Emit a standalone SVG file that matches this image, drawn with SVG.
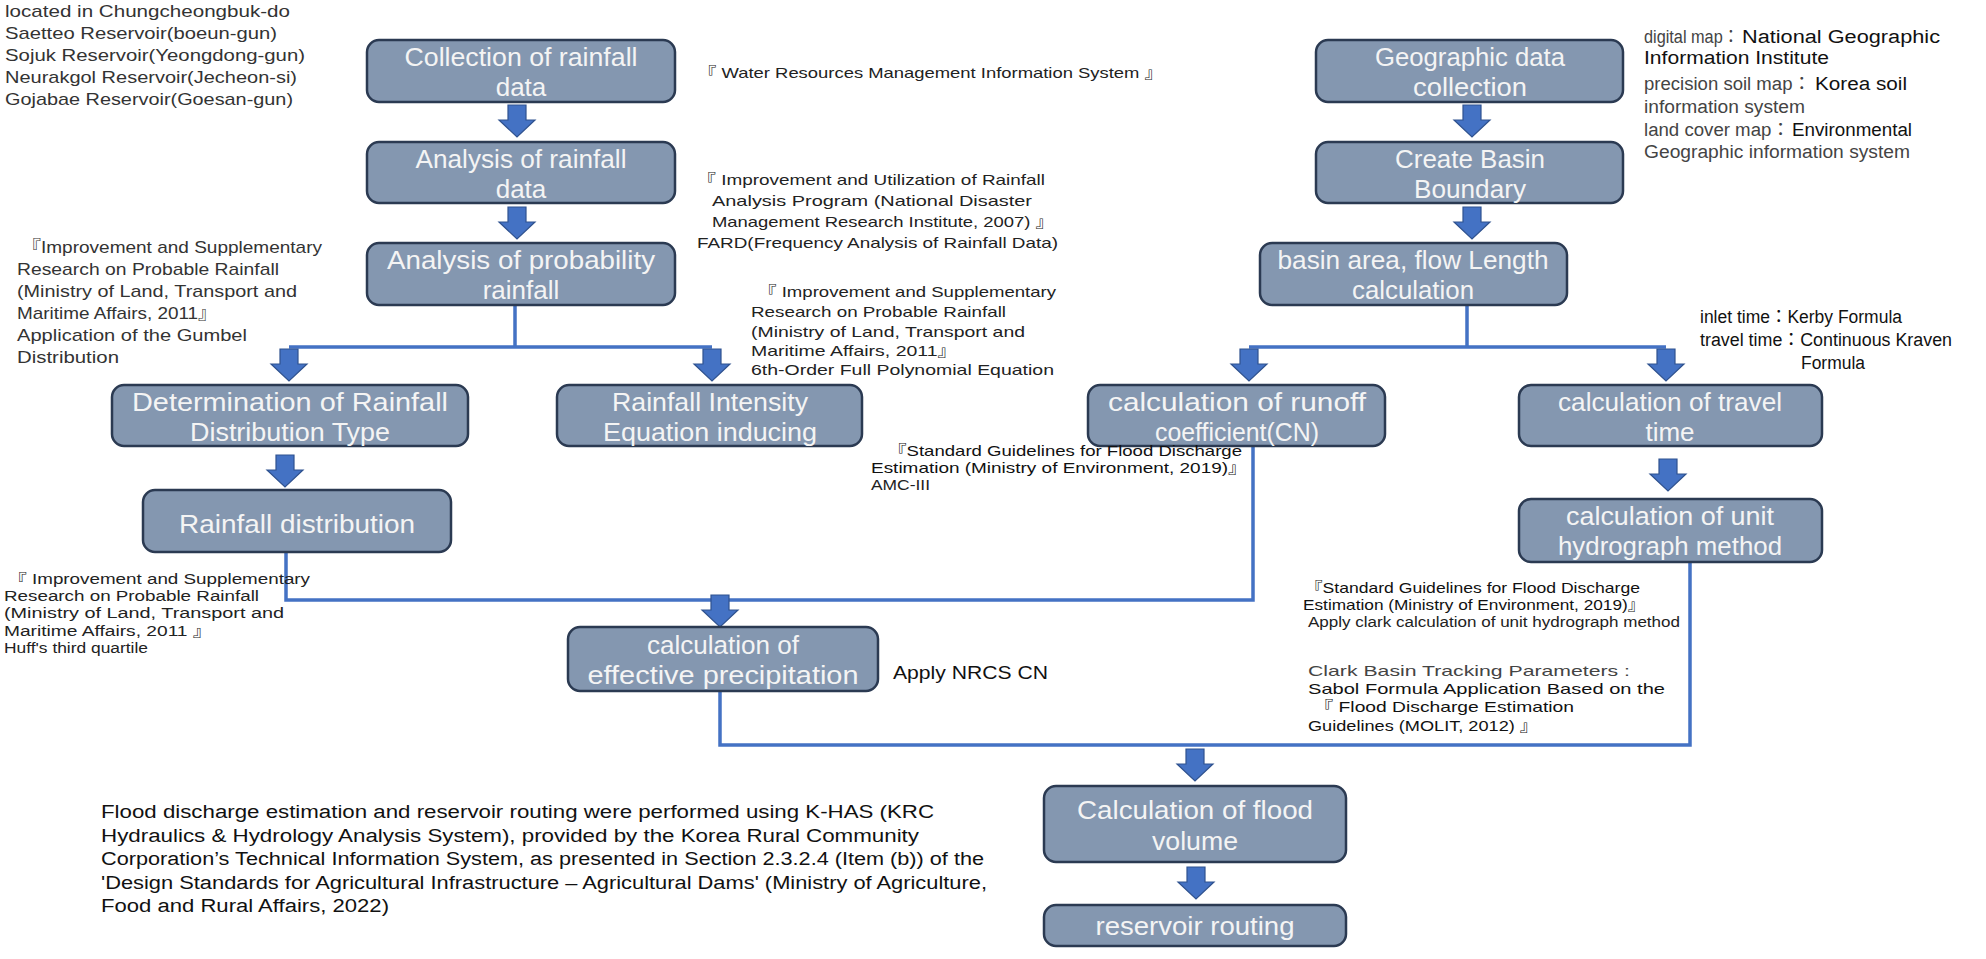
<svg xmlns="http://www.w3.org/2000/svg" xmlns:xlink="http://www.w3.org/1999/xlink" width="1986" height="959" viewBox="0 0 1986 959">
<style>
.node rect{fill:#8497B0;stroke:#2B3A52;stroke-width:2.5}
.nt{font-family:"Liberation Sans","Noto Sans CJK KR",sans-serif;font-size:26px;fill:#F4F4F4;text-anchor:middle}
.a1{font-family:"Liberation Sans","Noto Sans CJK KR",sans-serif;font-size:17px;fill:#333}
.a2{font-family:"Liberation Sans","Noto Sans CJK KR",sans-serif;font-size:15px;fill:#222}
.a5{font-family:"Liberation Sans","Noto Sans CJK KR",sans-serif;font-size:14px;fill:#222}
.a3{font-family:"Liberation Sans","Noto Sans CJK KR",sans-serif;font-size:18px;fill:#111}
.a4{font-family:"Liberation Sans","Noto Sans CJK KR",sans-serif;font-size:15px;fill:#111}
.lt{fill:#444}
.conn{fill:none;stroke:#4472C4;stroke-width:3.5}
</style>
<defs>
<path id="ba" d="M-9,0 H9 V15 H18 L0,32 L-18,15 H-9 Z" fill="#4472C4" stroke="#2F528F" stroke-width="1.2"/>
</defs>
<rect width="1986" height="959" fill="#fff"/>

<g id="connectors">
<path class="conn" d="M515,305 V347 M289,347 H712"/>
<path class="conn" d="M1467,305 V347 M1249,347 H1666"/>
<path class="conn" d="M286,552 V600 H1253 V447"/>
<path class="conn" d="M720,691 V745 H1690 V563"/>
<use xlink:href="#ba" transform="translate(517,105)"/>
<use xlink:href="#ba" transform="translate(517,207)"/>
<use xlink:href="#ba" transform="translate(289,349)"/>
<use xlink:href="#ba" transform="translate(712,349)"/>
<use xlink:href="#ba" transform="translate(285,455)"/>
<use xlink:href="#ba" transform="translate(720,595)"/>
<use xlink:href="#ba" transform="translate(1472,105)"/>
<use xlink:href="#ba" transform="translate(1472,207)"/>
<use xlink:href="#ba" transform="translate(1249,349)"/>
<use xlink:href="#ba" transform="translate(1666,349)"/>
<use xlink:href="#ba" transform="translate(1668,459)"/>
<use xlink:href="#ba" transform="translate(1195,749)"/>
<use xlink:href="#ba" transform="translate(1196,867)"/>
</g>

<g id="n1" class="node"><rect x="367" y="40" width="308" height="62" rx="12"/><text class="nt" x="521" y="66" textLength="233" lengthAdjust="spacingAndGlyphs">Collection of rainfall</text><text class="nt" x="521" y="96">data</text></g>
<g id="n2" class="node"><rect x="367" y="142" width="308" height="61" rx="12"/><text class="nt" x="521" y="168" textLength="211" lengthAdjust="spacingAndGlyphs">Analysis of rainfall</text><text class="nt" x="521" y="198">data</text></g>
<g id="n3" class="node"><rect x="367" y="243" width="308" height="62" rx="12"/><text class="nt" x="521" y="269" textLength="268" lengthAdjust="spacingAndGlyphs">Analysis of probability</text><text class="nt" x="521" y="299">rainfall</text></g>
<g id="n4" class="node"><rect x="112" y="385" width="356" height="61" rx="12"/><text class="nt" x="290" y="411" textLength="316" lengthAdjust="spacingAndGlyphs">Determination of Rainfall</text><text class="nt" x="290" y="441" textLength="200" lengthAdjust="spacingAndGlyphs">Distribution Type</text></g>
<g id="n5" class="node"><rect x="557" y="385" width="305" height="61" rx="12"/><text class="nt" x="710" y="411" textLength="196" lengthAdjust="spacingAndGlyphs">Rainfall Intensity</text><text class="nt" x="710" y="441" textLength="214" lengthAdjust="spacingAndGlyphs">Equation inducing</text></g>
<g id="n6" class="node"><rect x="143" y="490" width="308" height="62" rx="12"/><text class="nt" x="297" y="533" textLength="236" lengthAdjust="spacingAndGlyphs">Rainfall distribution</text></g>
<g id="n7" class="node"><rect x="568" y="627" width="310" height="64" rx="12"/><text class="nt" x="723" y="654" textLength="152" lengthAdjust="spacingAndGlyphs">calculation of</text><text class="nt" x="723" y="684" textLength="271" lengthAdjust="spacingAndGlyphs">effective precipitation</text></g>
<g id="n8" class="node"><rect x="1316" y="40" width="307" height="62" rx="12"/><text class="nt" x="1470" y="66" textLength="190" lengthAdjust="spacingAndGlyphs">Geographic data</text><text class="nt" x="1470" y="96" textLength="114" lengthAdjust="spacingAndGlyphs">collection</text></g>
<g id="n9" class="node"><rect x="1316" y="142" width="307" height="61" rx="12"/><text class="nt" x="1470" y="168" textLength="150" lengthAdjust="spacingAndGlyphs">Create Basin</text><text class="nt" x="1470" y="198" textLength="112" lengthAdjust="spacingAndGlyphs">Boundary</text></g>
<g id="n10" class="node"><rect x="1260" y="243" width="307" height="62" rx="12"/><text class="nt" x="1413" y="269" textLength="271" lengthAdjust="spacingAndGlyphs">basin area, flow Length</text><text class="nt" x="1413" y="299" textLength="122" lengthAdjust="spacingAndGlyphs">calculation</text></g>
<g id="n11" class="node"><rect x="1088" y="385" width="297" height="61" rx="12"/><text class="nt" x="1237" y="411" textLength="258" lengthAdjust="spacingAndGlyphs">calculation of runoff</text><text class="nt" x="1237" y="441" textLength="164" lengthAdjust="spacingAndGlyphs">coefficient(CN)</text></g>
<g id="n12" class="node"><rect x="1519" y="385" width="303" height="61" rx="12"/><text class="nt" x="1670" y="411" textLength="224" lengthAdjust="spacingAndGlyphs">calculation of travel</text><text class="nt" x="1670" y="441">time</text></g>
<g id="n13" class="node"><rect x="1519" y="499" width="303" height="63" rx="12"/><text class="nt" x="1670" y="525" textLength="208" lengthAdjust="spacingAndGlyphs">calculation of unit</text><text class="nt" x="1670" y="555" textLength="224" lengthAdjust="spacingAndGlyphs">hydrograph method</text></g>
<g id="n14" class="node"><rect x="1044" y="786" width="302" height="76" rx="12"/><text class="nt" x="1195" y="819" textLength="236" lengthAdjust="spacingAndGlyphs">Calculation of flood</text><text class="nt" x="1195" y="850" textLength="86" lengthAdjust="spacingAndGlyphs">volume</text></g>
<g id="n15" class="node"><rect x="1044" y="905" width="302" height="41" rx="12"/><text class="nt" x="1195" y="935" textLength="199" lengthAdjust="spacingAndGlyphs">reservoir routing</text></g>

<g id="notes">
<text class="a1" x="5" y="17" textLength="285" lengthAdjust="spacingAndGlyphs">located in Chungcheongbuk-do</text>
<text class="a1" x="5" y="39" textLength="272" lengthAdjust="spacingAndGlyphs">Saetteo Reservoir(boeun-gun)</text>
<text class="a1" x="5" y="61" textLength="300" lengthAdjust="spacingAndGlyphs">Sojuk Reservoir(Yeongdong-gun)</text>
<text class="a1" x="5" y="83" textLength="292" lengthAdjust="spacingAndGlyphs">Neurakgol Reservoir(Jecheon-si)</text>
<text class="a1" x="5" y="105" textLength="288" lengthAdjust="spacingAndGlyphs">Gojabae Reservoir(Goesan-gun)</text>

<text class="a2" x="698" y="78" font-size="16" textLength="465" lengthAdjust="spacingAndGlyphs">『 Water Resources Management Information System 』</text>

<text class="a2" x="697" y="185" textLength="348" lengthAdjust="spacingAndGlyphs">『 Improvement and Utilization of Rainfall</text>
<text class="a2" x="712" y="206" textLength="320" lengthAdjust="spacingAndGlyphs">Analysis Program (National Disaster</text>
<text class="a2" x="712" y="227" textLength="342" lengthAdjust="spacingAndGlyphs">Management Research Institute, 2007) 』</text>
<text class="a2" x="697" y="248" textLength="361" lengthAdjust="spacingAndGlyphs">FARD(Frequency Analysis of Rainfall Data)</text>

<text class="a1" x="22" y="253" textLength="300" lengthAdjust="spacingAndGlyphs">『Improvement and Supplementary</text>
<text class="a1" x="17" y="275" textLength="262" lengthAdjust="spacingAndGlyphs">Research on Probable Rainfall</text>
<text class="a1" x="17" y="297" textLength="280" lengthAdjust="spacingAndGlyphs">(Ministry of Land, Transport and</text>
<text class="a1" x="17" y="319" textLength="200" lengthAdjust="spacingAndGlyphs">Maritime Affairs, 2011』</text>
<text class="a1" x="17" y="341" textLength="230" lengthAdjust="spacingAndGlyphs">Application of the Gumbel</text>
<text class="a1" x="17" y="363" textLength="102" lengthAdjust="spacingAndGlyphs">Distribution</text>

<text class="a2" x="758" y="297" textLength="298" lengthAdjust="spacingAndGlyphs">『 Improvement and Supplementary</text>
<text class="a2" x="751" y="317" textLength="255" lengthAdjust="spacingAndGlyphs">Research on Probable Rainfall</text>
<text class="a2" x="751" y="337" textLength="274" lengthAdjust="spacingAndGlyphs">(Ministry of Land, Transport and</text>
<text class="a2" x="751" y="356" textLength="206" lengthAdjust="spacingAndGlyphs">Maritime Affairs, 2011』</text>
<text class="a2" x="751" y="375" textLength="303" lengthAdjust="spacingAndGlyphs">6th-Order Full Polynomial Equation</text>

<text class="a3 lt" x="1644" y="43" font-size="15" textLength="95" lengthAdjust="spacingAndGlyphs">digital map：</text>
<text class="a3" x="1742" y="43" textLength="198" lengthAdjust="spacingAndGlyphs">National Geographic</text>
<text class="a3" x="1644" y="64" textLength="185" lengthAdjust="spacingAndGlyphs">Information Institute</text>
<text class="a3 lt" x="1644" y="90" font-size="15" textLength="167" lengthAdjust="spacingAndGlyphs">precision soil map：</text>
<text class="a3" x="1815" y="90" textLength="92" lengthAdjust="spacingAndGlyphs">Korea soil</text>
<text class="a3 lt" x="1644" y="113" font-size="16" textLength="161" lengthAdjust="spacingAndGlyphs">information system</text>
<text class="a3 lt" x="1644" y="136" font-size="15" textLength="146" lengthAdjust="spacingAndGlyphs">land cover map：</text>
<text class="a3" x="1792" y="136" textLength="120" lengthAdjust="spacingAndGlyphs">Environmental</text>
<text class="a3 lt" x="1644" y="158" font-size="17" textLength="266" lengthAdjust="spacingAndGlyphs">Geographic information system</text>

<text class="a3" x="1700" y="323" textLength="202" lengthAdjust="spacingAndGlyphs">inlet time：Kerby Formula</text>
<text class="a3" x="1700" y="346" textLength="252" lengthAdjust="spacingAndGlyphs">travel time：Continuous Kraven</text>
<text class="a3" x="1801" y="369" textLength="64" lengthAdjust="spacingAndGlyphs">Formula</text>

<text class="a4" x="888" y="456" textLength="354" lengthAdjust="spacingAndGlyphs">『Standard Guidelines for Flood Discharge</text>
<text class="a4" x="871" y="473" textLength="376" lengthAdjust="spacingAndGlyphs">Estimation (Ministry of Environment, 2019)』</text>
<text class="a5" x="871" y="490" textLength="59" lengthAdjust="spacingAndGlyphs">AMC-III</text>

<text class="a5" x="8" y="584" textLength="302" lengthAdjust="spacingAndGlyphs">『 Improvement and Supplementary</text>
<text class="a5" x="4" y="601" textLength="255" lengthAdjust="spacingAndGlyphs">Research on Probable Rainfall</text>
<text class="a5" x="4" y="618" textLength="280" lengthAdjust="spacingAndGlyphs">(Ministry of Land, Transport and</text>
<text class="a5" x="4" y="636" textLength="208" lengthAdjust="spacingAndGlyphs">Maritime Affairs, 2011 』</text>
<text class="a5" x="4" y="653" textLength="144" lengthAdjust="spacingAndGlyphs">Huff's third quartile</text>

<text class="a3" x="893" y="679" textLength="155" lengthAdjust="spacingAndGlyphs">Apply NRCS CN</text>

<text class="a4" x="1305" y="593" textLength="335" lengthAdjust="spacingAndGlyphs">『Standard Guidelines for Flood Discharge</text>
<text class="a4" x="1303" y="610" textLength="342" lengthAdjust="spacingAndGlyphs">Estimation (Ministry of Environment, 2019)』</text>
<text class="a5" x="1308" y="627" textLength="372" lengthAdjust="spacingAndGlyphs">Apply clark calculation of unit hydrograph method</text>
<text class="a4 lt" x="1308" y="676" font-size="16" textLength="322" lengthAdjust="spacingAndGlyphs">Clark Basin Tracking Parameters :</text>
<text class="a4" x="1308" y="694" font-size="16" textLength="357" lengthAdjust="spacingAndGlyphs">Sabol Formula Application Based on the</text>
<text class="a4" x="1314" y="712" font-size="16" textLength="260" lengthAdjust="spacingAndGlyphs">『 Flood Discharge Estimation</text>
<text class="a4" x="1308" y="731" font-size="16" textLength="230" lengthAdjust="spacingAndGlyphs">Guidelines (MOLIT, 2012) 』</text>

<text class="a3" x="101" y="818" font-size="19" textLength="833" lengthAdjust="spacingAndGlyphs">Flood discharge estimation and reservoir routing were performed using K-HAS (KRC</text>
<text class="a3" x="101" y="842" font-size="19" textLength="818" lengthAdjust="spacingAndGlyphs">Hydraulics &amp; Hydrology Analysis System), provided by the Korea Rural Community</text>
<text class="a3" x="101" y="865" font-size="19" textLength="883" lengthAdjust="spacingAndGlyphs">Corporation’s Technical Information System, as presented in Section 2.3.2.4 (Item (b)) of the</text>
<text class="a3" x="101" y="889" font-size="19" textLength="886" lengthAdjust="spacingAndGlyphs">'Design Standards for Agricultural Infrastructure – Agricultural Dams' (Ministry of Agriculture,</text>
<text class="a3" x="101" y="912" font-size="19" textLength="288" lengthAdjust="spacingAndGlyphs">Food and Rural Affairs, 2022)</text>
</g>
</svg>
